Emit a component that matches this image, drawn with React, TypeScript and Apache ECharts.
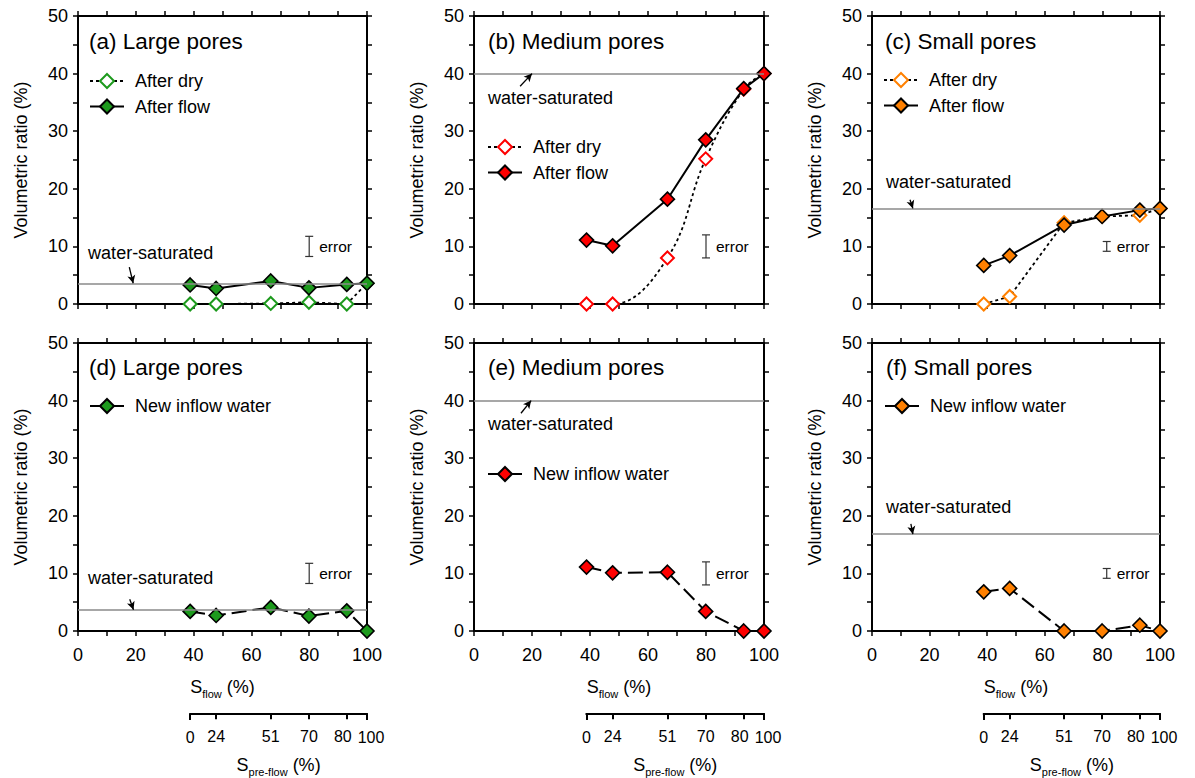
import React, { useEffect, useRef } from "react";
import * as echarts from "echarts";

// ---------------- data ----------------
const S_FLOW = [38.8, 47.8, 66.7, 79.9, 93.0, 100];
const PRE_FLOW_TICKS = ["0", "24", "51", "70", "80", "100"];

const LARGE_AFTER_DRY = [0, 0, 0.1, 0.3, 0, 3.6];
const LARGE_AFTER_FLOW = [3.3, 2.7, 4.0, 2.8, 3.4, 3.6];
const MEDIUM_AFTER_DRY = [0, 0, 8.0, 25.2, 37.3, 40.0];
const MEDIUM_AFTER_FLOW = [11.1, 10.1, 18.2, 28.5, 37.4, 40.0];
const SMALL_AFTER_DRY = [0, 1.3, 14.1, 15.2, 15.4, 16.6];
const SMALL_AFTER_FLOW = [6.7, 8.4, 13.7, 15.2, 16.3, 16.6];

const LARGE_NEW_INFLOW = [3.4, 2.7, 4.1, 2.6, 3.5, 0];
const MEDIUM_NEW_INFLOW = [11.1, 10.1, 10.2, 3.4, 0, 0];
const SMALL_NEW_INFLOW = [6.8, 7.4, 0, 0, 1.0, 0];

const WATER_SATURATED_TOP = [3.6, 40, 16.6];
const WATER_SATURATED_BOTTOM = [3.7, 40, 16.8];
const ERROR_HALF = [1.75, 2.0, 0.85];

const TITLES = [
  ["(a) Large pores", "(b) Medium pores", "(c) Small pores"],
  ["(d) Large pores", "(e) Medium pores", "(f) Small pores"],
];
const Y_NAME = "Volumetric ratio (%)";

// ---------------- layout / style ----------------
const FONT = "'Liberation Sans', Arial, Helvetica, sans-serif";
const COLORS = ["#1d9a1d", "#ff0000", "#ff8000"];
const COLS = [
  { left: 78, width: 289 },
  { left: 474, width: 290 },
  { left: 872, width: 288 },
];
const ROWS = [
  { top: 16, height: 288 },
  { top: 343, height: 288 },
];
const TITLE_POS = [
  [{ left: 89, top: 30 }, { left: 488, top: 30 }, { left: 885, top: 30 }],
  [{ left: 89, top: 356 }, { left: 488, top: 356 }, { left: 886, top: 356 }],
];
const LEGEND_POS = [
  [{ left: 89, top: 72 }, { left: 487, top: 138 }, { left: 883, top: 71 }],
  [{ left: 89, top: 397 }, { left: 487, top: 465 }, { left: 884, top: 397 }],
];
// annotation anchors in data coordinates
const ERROR_AT = [[80, 10], [80, 10], [81.5, 10]];
const WATER_LABEL_AT = [
  [[3.5, 8.85], [4.8, 35.8], [4.9, 21.2]],
  [[3.5, 9.2], [4.8, 35.9], [4.9, 21.5]],
];
const ARROWS = [
  [[[17.75, 6.4], [19.1, 3.6]], [[15.9, 37.8], [20, 40]], [[13.2, 18.1], [14.2, 16.6]]],
  [[[17.9, 5.5], [19.2, 3.7]], [[16.2, 37.8], [19.7, 40]], [[13.5, 18.6], [14.2, 16.8]]],
];
const PRE_AXIS_TOP = 713;
const FS = 18;
const PRE_FS = 16;

const tickStyle = { color: "#000", width: 1.5 };

function xAxisDef(g: number, pos: string, labels: boolean) {
  return {
    type: "value",
    gridIndex: g,
    position: pos,
    min: 0,
    max: 100,
    interval: 20,
    axisLine: { show: true, onZero: false, lineStyle: { color: "#000", width: 2 } },
    axisTick: { show: true, inside: false, length: 5, lineStyle: tickStyle },
    minorTick: { show: true, splitNumber: 2, length: 5, lineStyle: tickStyle },
    splitLine: { show: false },
    minorSplitLine: { show: false },
    axisLabel: { show: labels, margin: 15, fontSize: FS, color: "#000", fontFamily: FONT },
    name: labels ? "{m|S}{s|flow}{m| (%)}" : "",
    nameLocation: "middle",
    nameGap: 44,
    nameTextStyle: {
      rich: {
        m: { fontSize: FS, fontFamily: FONT, color: "#000", lineHeight: 24 },
        s: { fontSize: 11, fontFamily: FONT, color: "#000", lineHeight: 11, verticalAlign: "bottom" },
      },
    },
  };
}

function yAxisDef(g: number, pos: string, labels: boolean) {
  return {
    type: "value",
    gridIndex: g,
    position: pos,
    min: 0,
    max: 50,
    interval: 10,
    axisLine: { show: true, onZero: false, lineStyle: { color: "#000", width: 2 } },
    axisTick: { show: true, inside: false, length: 5, lineStyle: tickStyle },
    minorTick: { show: true, splitNumber: 2, length: 5, lineStyle: tickStyle },
    splitLine: { show: false },
    minorSplitLine: { show: false },
    axisLabel: { show: labels, margin: 10, fontSize: FS, color: "#000", fontFamily: FONT },
    name: labels ? Y_NAME : "",
    nameLocation: "middle",
    nameRotate: 90,
    nameGap: 48,
    nameTextStyle: { fontSize: FS, fontFamily: FONT, color: "#000" },
  };
}

function preFlowLabel(v: number) {
  let best = 0;
  S_FLOW.forEach((s, i) => {
    if (Math.abs(s - v) < Math.abs(S_FLOW[best] - v)) best = i;
  });
  const txt = PRE_FLOW_TICKS[best];
  if (best === S_FLOW.length - 1) return "{r|" + txt + "}";
  if (best === S_FLOW.length - 2) return "{l|" + txt + "}";
  return "{n|" + txt + "}";
}

function buildOption() {
  const grid: any[] = [];
  const xAxis: any[] = [];
  const yAxis: any[] = [];
  const series: any[] = [];
  const legend: any[] = [];
  const title: any[] = [];

  const topDry = [LARGE_AFTER_DRY, MEDIUM_AFTER_DRY, SMALL_AFTER_DRY];
  const topFlow = [LARGE_AFTER_FLOW, MEDIUM_AFTER_FLOW, SMALL_AFTER_FLOW];
  const newInflow = [LARGE_NEW_INFLOW, MEDIUM_NEW_INFLOW, SMALL_NEW_INFLOW];
  const keys = [["a", "b", "c"], ["d", "e", "f"]];

  for (let r = 0; r < 2; r++) {
    for (let c = 0; c < 3; c++) {
      const g = grid.length;
      grid.push({ left: COLS[c].left, top: ROWS[r].top, width: COLS[c].width, height: ROWS[r].height });
      const xi = xAxis.length;
      xAxis.push(xAxisDef(g, "bottom", r === 1));
      xAxis.push(xAxisDef(g, "top", false));
      const yi = yAxis.length;
      yAxis.push(yAxisDef(g, "left", true));
      yAxis.push(yAxisDef(g, "right", false));
      const key = keys[r][c];
      const sat = r === 0 ? WATER_SATURATED_TOP[c] : WATER_SATURATED_BOTTOM[c];
      const arrow = ARROWS[r][c];
      const waterLabel = WATER_LABEL_AT[r][c];

      title.push({
        text: TITLES[r][c],
        left: TITLE_POS[r][c].left,
        top: TITLE_POS[r][c].top,
        padding: 0,
        textStyle: { fontSize: 22.5, fontWeight: "normal", color: "#000", fontFamily: FONT },
      });

      // annotation series: error bar, water-saturated line and arrow, labels
      series.push({
        type: "custom",
        name: "annot|" + key,
        xAxisIndex: xi,
        yAxisIndex: yi,
        z: 1,
        silent: true,
        data: [[ERROR_AT[c][0], ERROR_AT[c][1], ERROR_HALF[c]]],
        encode: { x: 0, y: 1 },
        renderItem: (params: any, api: any) => {
          const x = api.value(0);
          const y = api.value(1);
          const h = api.value(2);
          const t = api.coord([x, y + h]);
          const b = api.coord([x, y - h]);
          const cap = 4;
          const ls = { stroke: "#333", lineWidth: 1.2 };
          const wl = api.coord(waterLabel);
          return {
            type: "group",
            children: [
              { type: "line", shape: { x1: t[0], y1: t[1], x2: b[0], y2: b[1] }, style: ls },
              { type: "line", shape: { x1: t[0] - cap, y1: t[1], x2: t[0] + cap, y2: t[1] }, style: ls },
              { type: "line", shape: { x1: b[0] - cap, y1: b[1], x2: b[0] + cap, y2: b[1] }, style: ls },
              {
                type: "text",
                x: t[0] + 10,
                y: (t[1] + b[1]) / 2,
                style: { text: "error", fill: "#000", fontSize: 15.5, fontFamily: FONT, align: "left", verticalAlign: "middle" },
              },
              {
                type: "text",
                x: wl[0],
                y: wl[1],
                style: { text: "water-saturated", fill: "#000", fontSize: FS, fontFamily: FONT, align: "left", verticalAlign: "middle" },
              },
            ],
          };
        },
        markLine: {
          silent: true,
          symbol: ["none", "none"],
          label: { show: false },
          data: [
            { yAxis: sat, lineStyle: { color: "#8a8a8a", width: 1.6, type: "solid" } },
            [
              { coord: arrow[0], symbol: "none", lineStyle: { color: "#000", width: 1.3, type: "solid" } },
              { coord: arrow[1], symbol: "arrow", symbolSize: [6, 8] },
            ],
          ],
        },
      });

      const legendNames: string[] = [];
      if (r === 0) {
        const dryName = "After dry|" + key;
        const flowName = "After flow|" + key;
        legendNames.push(dryName, flowName);
        series.push({
          type: "line",
          name: dryName,
          xAxisIndex: xi,
          yAxisIndex: yi,
          data: S_FLOW.map((s, i) => [s, topDry[c][i]]),
          smooth: c === 1 ? 0.4 : false,
          symbol: "diamond",
          symbolSize: 13,
          lineStyle: { color: "#000", width: 1.8, type: [3, 3] },
          itemStyle: { color: "#fff", borderColor: COLORS[c], borderWidth: 2 },
          z: 3,
        });
        series.push({
          type: "line",
          name: flowName,
          xAxisIndex: xi,
          yAxisIndex: yi,
          data: S_FLOW.map((s, i) => [s, topFlow[c][i]]),
          symbol: "diamond",
          symbolSize: 14,
          lineStyle: { color: "#000", width: 2 },
          itemStyle: { color: COLORS[c], borderColor: "#000", borderWidth: 1.6 },
          z: 4,
        });
      } else {
        const nm = "New inflow water|" + key;
        legendNames.push(nm);
        series.push({
          type: "line",
          name: nm,
          xAxisIndex: xi,
          yAxisIndex: yi,
          data: S_FLOW.map((s, i) => [s, newInflow[c][i]]),
          symbol: "diamond",
          symbolSize: 14,
          lineStyle: { color: "#000", width: 2, type: [15, 6] },
          itemStyle: { color: COLORS[c], borderColor: "#000", borderWidth: 1.6 },
          z: 4,
        });
      }

      legend.push({
        data: legendNames,
        left: LEGEND_POS[r][c].left,
        top: LEGEND_POS[r][c].top,
        orient: "vertical",
        padding: 0,
        itemWidth: 34,
        itemHeight: 17.5,
        itemGap: 7.5,
        selectedMode: false,
        formatter: (n: string) => n.split("|")[0],
        textStyle: { fontSize: FS, color: "#000", fontFamily: FONT, padding: [0, 0, 0, 6] },
      });
    }
  }

  // secondary S_pre-flow axes under the bottom row.
  // Two overlapping axes per panel so neighbouring labels are not auto-hidden:
  // one carries the inner ticks, the other the two end ticks.
  const lastIdx = S_FLOW.length - 1;
  const innerVals = S_FLOW.slice(1, lastIdx);
  const endVals = [S_FLOW[0], 99.99];
  const labelRich = {
    n: { fontSize: PRE_FS, fontFamily: FONT, color: "#000" },
    l: { fontSize: PRE_FS, fontFamily: FONT, color: "#000", padding: [0, 8, 0, 0] },
    r: { fontSize: PRE_FS, fontFamily: FONT, color: "#000", padding: [0, 0, 0, 8] },
  };
  for (let c = 0; c < 3; c++) {
    const left = COLS[c].left + (S_FLOW[0] / 100) * COLS[c].width;
    const width = ((100 - S_FLOW[0]) / 100) * COLS[c].width;
    [innerVals, endVals].forEach((vals, k) => {
      const g = grid.length;
      grid.push({ left, top: PRE_AXIS_TOP, width, height: 1 });
      xAxis.push({
        type: "value",
        gridIndex: g,
        position: "bottom",
        min: S_FLOW[0],
        max: 100,
        axisLine: { show: true, onZero: false, lineStyle: { color: "#000", width: 2 } },
        axisTick: { show: true, inside: false, length: 6, customValues: vals, lineStyle: { color: "#000", width: 2 } },
        splitLine: { show: false },
        axisLabel: {
          show: true,
          customValues: vals,
          margin: 15,
          fontSize: PRE_FS,
          color: "#000",
          fontFamily: FONT,
          formatter: preFlowLabel,
          rich: labelRich,
        },
        name: k === 0 ? "{m|S}{s|pre-flow}{m| (%)}" : "",
        nameLocation: "middle",
        nameGap: 40,
        nameTextStyle: {
          rich: {
            m: { fontSize: FS, fontFamily: FONT, color: "#000", lineHeight: 24 },
            s: { fontSize: 11, fontFamily: FONT, color: "#000", lineHeight: 11, verticalAlign: "bottom" },
          },
        },
      });
      yAxis.push({ type: "value", gridIndex: g, show: false, min: 0, max: 1 });
    });
  }

  return {
    animation: false,
    backgroundColor: "#fff",
    textStyle: { fontFamily: FONT },
    title,
    legend,
    grid,
    xAxis,
    yAxis,
    series,
  };
}

export default function App() {
  const ref = useRef<HTMLDivElement>(null);
  useEffect(() => {
    if (!ref.current) return;
    const chart = echarts.init(ref.current, undefined, { renderer: "svg" });
    chart.setOption(buildOption() as any);
    return () => chart.dispose();
  }, []);
  return (
    <div
      ref={ref}
      style={{ position: "absolute", left: 0, top: 0, width: 1195, height: 778, background: "#fff" }}
    />
  );
}
